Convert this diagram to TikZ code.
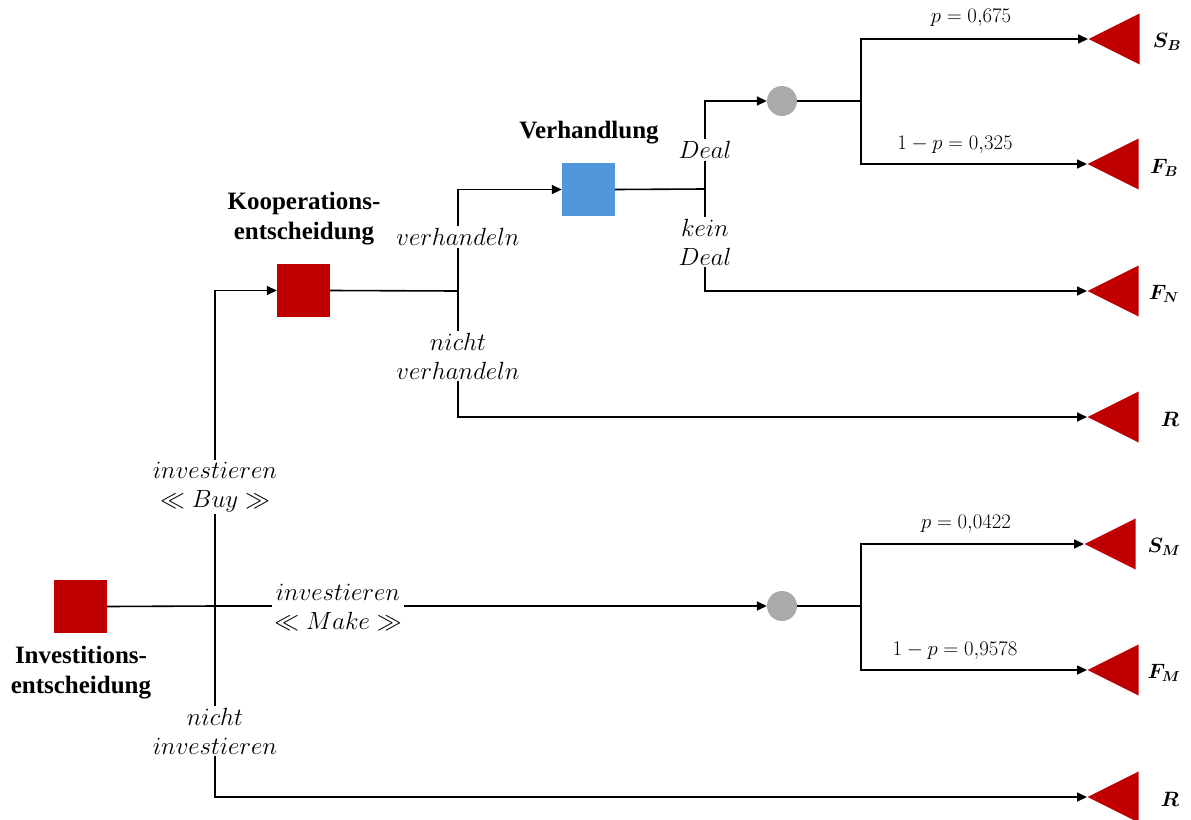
\documentclass[tikz,border=0pt]{standalone}
\usepackage{amsmath}
\usepackage{fontspec}
\setmainfont{Liberation Serif}
\usepackage{bm}
\usetikzlibrary{arrows.meta,shapes.geometric}
\definecolor{dred}{HTML}{C00000}
\definecolor{dblue}{HTML}{5197DB}
\definecolor{cgray}{HTML}{AAAAAA}
\begin{document}
\begin{tikzpicture}[x=1pt,y=-1pt,
  conn/.style={line width=1.6pt,black},
  arr/.style={conn,-{Triangle[length=10pt,width=9pt]}},
  decsq/.style={rectangle,minimum size=53pt,inner sep=0pt,fill=#1},
  chance/.style={circle,minimum size=30pt,inner sep=0pt,fill=cgray},
  term/.style={isosceles triangle,isosceles triangle stretches,shape border rotate=180,
    minimum width=51pt,minimum height=51pt,inner sep=0pt,fill=dred,anchor=apex},
  title/.style={font=\fontsize{25}{30}\selectfont\bfseries,align=center},
  lbl/.style={fill=white,inner sep=2pt,font=\fontsize{25}{29}\selectfont,align=center},
  prob/.style={font=\fontsize{21}{24}\selectfont},
  res/.style={font=\fontsize{22}{24}\selectfont}]
\useasboundingbox (0,0) rectangle (1191,819);
% decision / chance nodes
\node[decsq=dred] (inv) at (80.5,606.5) {};
\node[decsq=dred] (koop) at (303.5,290.5) {};
\node[decsq=dblue] (verh) at (588.5,189.5) {};
\node[chance] (c1) at (782,101) {};
\node[chance] (c2) at (782,606) {};
% terminal nodes
\node[term] (SB) at (1088,39) {};
\node[term] (FB) at (1087,164) {};
\node[term] (FN) at (1087,291) {};
\node[term] (R1) at (1087,417) {};
\node[term] (SM) at (1084,544) {};
\node[term] (FM) at (1087,670) {};
\node[term] (R2) at (1087,797) {};
% titles
\node[title] (tinv) at (81,673) {Investitions-\\entscheidung};
\node[title] (tkoop) at (304,219) {Kooperations-\\entscheidung};
\node[title] (tverh) at (589,133) {Verhandlung};
% result labels
\node[res] (lSB) at (1167,42) {$\bm{S_B}$};
\node[res] (lFB) at (1164,168) {$\bm{F_B}$};
\node[res] (lFN) at (1164,294) {$\bm{F_N}$};
\node[res] (lR1) at (1170,419) {$\bm{R}$};
\node[res] (lSM) at (1164,547) {$\bm{S_M}$};
\node[res] (lFM) at (1164,673) {$\bm{F_M}$};
\node[res] (lR2) at (1170,799) {$\bm{R}$};
% junctions
\coordinate (j1) at (215,606);
\coordinate (j2) at (458,291);
\coordinate (j3) at (705,189);
\coordinate (j4) at (861,101);
\coordinate (j5) at (861,606);
% connectors
\draw[conn] (inv.east) -- (j1);
\draw[arr] (j1) |- (koop.west);
\draw[arr] (j1) |- (R2.apex);
\draw[arr] (j1) -- (c2.west);
\draw[conn] (koop.east) -- (j2);
\draw[arr] (j2) |- (verh.west);
\draw[arr] (j2) |- (R1.apex);
\draw[conn] (verh.east) -- (j3);
\draw[arr] (j3) |- (c1.west);
\draw[arr] (j3) |- (FN.apex);
\draw[conn] (c1.east) -- (j4);
\draw[arr] (j4) |- (SB.apex);
\draw[arr] (j4) |- (FB.apex);
\draw[conn] (c2.east) -- (j5);
\draw[arr] (j5) |- (SM.apex);
\draw[arr] (j5) |- (FM.apex);
% branch labels
\node[lbl] (bbuy) at (215,487) {$investieren$\\$\ll Buy \gg$};
\node[lbl] (bmake) at (338,607) {$investieren$\\$\ll Make \gg$};
\node[lbl] (bnicht) at (215,731) {$nicht$\\$investieren$};
\node[lbl] (bverh) at (458,237) {$verhandeln$};
\node[lbl] (bnverh) at (458,356) {$nicht$\\$verhandeln$};
\node[lbl] (bdeal) at (705,150) {$Deal$};
\node[lbl] (bkdeal) at (705,242) {$kein$\\$Deal$};
% probabilities
\node[prob] (p1) at (971,18) {$p = 0{,}675$};
\node[prob] (p2) at (955,145) {$1 - p = 0{,}325$};
\node[prob] (p3) at (966,524) {$p = 0{,}0422$};
\node[prob] (p4) at (955,651) {$1 - p = 0{,}9578$};
\end{tikzpicture}
\end{document}
